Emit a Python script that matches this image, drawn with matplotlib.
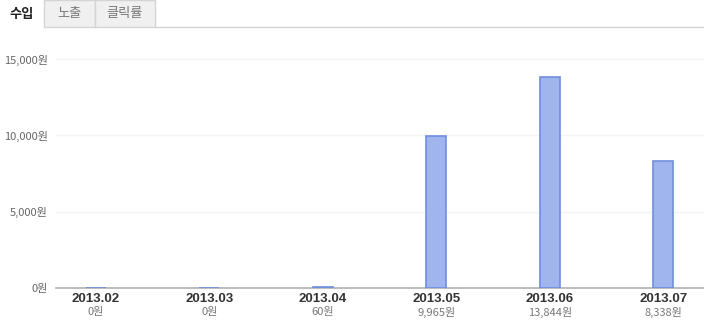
import matplotlib.pyplot as plt
from matplotlib.patches import Rectangle
from matplotlib.lines import Line2D

plt.rcParams['font.family'] = ['Noto Sans CJK KR', 'DejaVu Sans']

months = ["2013.02", "2013.03", "2013.04", "2013.05", "2013.06", "2013.07"]
revenue = [0, 0, 60, 9965, 13844, 8338]
yticks = [0, 5000, 10000, 15000]
tabs = ["수입", "노출", "클릭률"]

W, H = 704, 333
fig = plt.figure(figsize=(W / 100, H / 100), dpi=100)

# plot area in pixel coords of the reference
left, right, bottom_px = 56, 704, 288
top_px = 288 - 229 * 15500 / 15000
ax = fig.add_axes([left / W, (H - bottom_px) / H, (right - left) / W, (bottom_px - top_px) / H])

x = list(range(len(months)))
ax.bar(x, revenue, width=0.176, color="#a0b4ee", edgecolor="#6f8edc", linewidth=1.2, zorder=5)

ax.set_xlim(-0.352, 5.357)
ax.set_ylim(0, 15500)
ax.set_yticks(yticks)
ax.set_yticklabels([f"{v:,}원" for v in yticks], fontsize=8, color="#666666")
ax.tick_params(axis="y", length=0, pad=6)
ax.grid(axis="y", color="#f4f4f4", linewidth=1, zorder=0)
ax.set_xticks(x)
ax.set_xticklabels([])
ax.tick_params(axis="x", length=0)

for s in ["top", "right", "left"]:
    ax.spines[s].set_visible(False)
ax.spines["bottom"].set_color("#b0b0b0")
ax.spines["bottom"].set_linewidth(1.2)
ax.spines["bottom"].set_zorder(4)

# month labels and values under the axis
for i, (m, v) in enumerate(zip(months, revenue)):
    ax.annotate(m, (i, 0), xytext=(0, -11), textcoords="offset pixels",
                ha="center", va="center", fontsize=9.5, fontweight="bold", color="#333333",
                family=["Liberation Sans"], annotation_clip=False)
    ax.annotate(f"{v:,}원", (i, 0), xytext=(0, -24), textcoords="offset pixels",
                ha="center", va="center", fontsize=8, color="#777777", annotation_clip=False)

# tabs at the top
tab_edges = [(0, 44), (44, 95), (95, 155)]
for j, (t, (x0, x1)) in enumerate(zip(tabs, tab_edges)):
    if j > 0:
        fig.patches.append(Rectangle((x0 / W, (H - 27) / H), (x1 - x0) / W, 27 / H,
                                     transform=fig.transFigure, facecolor="#f0f0f0",
                                     edgecolor="#d4d4d4", linewidth=1))
    fig.text((x0 + x1) / 2 / W, (H - 14) / H, t, ha="center", va="center",
             fontsize=9.5, fontweight="bold" if j == 0 else "normal",
             color="#222222" if j == 0 else "#777777")
fig.lines.append(Line2D([155 / W, 1], [(H - 27) / H] * 2, transform=fig.transFigure,
                        color="#d4d4d4", linewidth=1))

fig.savefig("out.png", dpi=100)
